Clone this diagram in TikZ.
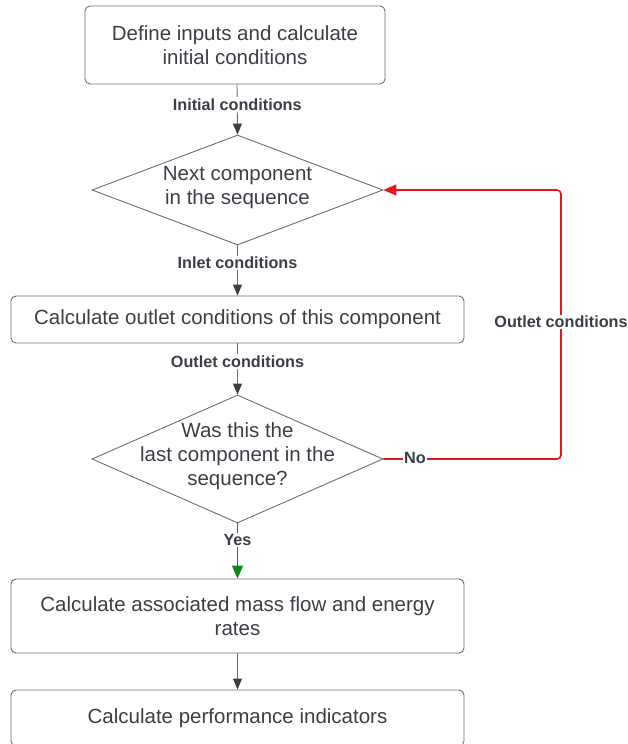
\documentclass[tikz,border=0pt]{standalone}
\usepackage{fontspec}
\setmainfont{Liberation Sans}
\usetikzlibrary{arrows.meta,shapes.geometric}
\definecolor{inkgray}{HTML}{3A3F47}
\definecolor{edgegray}{HTML}{6B6E73}
\definecolor{flowred}{HTML}{E8141B}
\definecolor{flowgreen}{HTML}{0B8A1A}
\begin{document}
\begin{tikzpicture}[x=1pt,y=-1pt,
  every node/.style={text=inkgray},
  stepbox/.style={draw=edgegray, line width=0.9pt, rounded corners=5pt,
    inner sep=0pt, align=center, font=\fontsize{20.5}{24}\selectfont},
  decision/.style={draw=edgegray, line width=0.9pt, diamond, inner sep=0pt},
  dtext/.style={align=center, font=\fontsize{20.5}{24}\selectfont, inner sep=0pt},
  flowlabel/.style={fill=white, inner sep=1.5pt, font=\fontsize{16.2}{18}\selectfont\bfseries},
  flow/.style={draw=edgegray, line width=0.9pt,
    -{Triangle[length=11pt,width=9pt,fill=inkgray,color=inkgray]}},
  noflow/.style={draw=flowred, line width=1.6pt, rounded corners=4pt,
    -{Triangle[length=13pt,width=11pt]}},
  yesflow/.style={draw=flowgreen, line width=1.6pt,
    -{Triangle[length=13pt,width=11pt]}}
]
\useasboundingbox (0,0) rectangle (627,744);

% process steps and decisions
\node[stepbox, minimum width=300pt, minimum height=78pt] (define) at (235,45)
  {Define inputs and calculate\\initial conditions};
\node[decision, minimum width=291pt, minimum height=110pt] (next) at (237.5,190) {};
\node[dtext] (nexttxt) at (237.5,188) {Next component\\in the sequence};
\node[stepbox, minimum width=453pt, minimum height=47pt] (outlet) at (237.5,319.5)
  {Calculate outlet conditions of this component};
\node[decision, minimum width=291pt, minimum height=128pt] (last) at (237.5,459) {};
\node[dtext] (lasttxt) at (237.5,456) {Was this the\\last component in the\\sequence?};
\node[stepbox, minimum width=453pt, minimum height=74pt] (rates) at (237.5,616)
  {Calculate associated mass flow and energy\\rates};
\node[stepbox, minimum width=453pt, minimum height=56pt] (perf) at (237.5,718)
  {Calculate performance indicators};

% main sequence
\draw[flow] (define.south -| 237,0) -- (next.north)
  node[flowlabel, pos=0.4] {Initial conditions};
\draw[flow] (next.south) -- (outlet.north)
  node[flowlabel, pos=0.35] {Inlet conditions};
\draw[flow] (outlet.south) -- (last.north)
  node[flowlabel, pos=0.35] {Outlet conditions};
\draw[yesflow] (last.south) -- (rates.north)
  node[flowlabel, pos=0.3] {Yes};
\draw[flow] (rates.south) -- (perf.north);

% loop back to the next component
\coordinate (loopright) at (561,0);
\draw[noflow] (last.east) -- (last.east -| loopright) -- (next.east -| loopright) -- (next.east);
\node[flowlabel] (nolabel) at (415,458) {No};
\node[flowlabel] (looplabel) at (561,322) {Outlet conditions};
\end{tikzpicture}
\end{document}
